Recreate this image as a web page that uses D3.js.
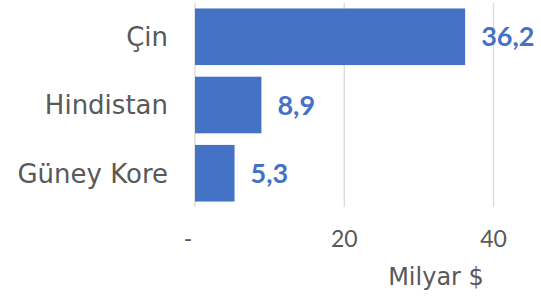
<!DOCTYPE html>
<html>
<head>
<meta charset="UTF-8">
<style>
  body { margin: 0; background: #fff; }
  svg { display: block; font-family: "Century Gothic", "Lato", sans-serif; }
  .wide { font-family: "Century Gothic", "DejaVu Sans", sans-serif; }
</style>
<script src="https://cdn.jsdelivr.net/npm/d3@7"></script>
</head>
<body>
<svg id="chart" width="541" height="300"></svg>
<script>
const categories = ["Çin", "Hindistan", "Güney Kore"];
const values = [36.2, 8.9, 5.3];
const tickValues = [0, 20, 40];
const tickLabels = ["-", "20", "40"];
const axisTitle = "Milyar $";

const svg = d3.select("#chart");
const blue = "#4472C4";
const grey = "#595959";

const x = d3.scaleLinear().domain([0, 40]).range([195, 493.5]);
const y = d3.scaleBand().domain(categories).range([3, 207]).paddingInner(0.17).paddingOuter(0.08);

// gridlines
svg.append("g").selectAll("line")
  .data(tickValues)
  .join("line")
  .attr("x1", d => x(d)).attr("x2", d => x(d))
  .attr("y1", 3).attr("y2", 207)
  .attr("stroke", "#d9d9d9").attr("stroke-width", 1.3);

// bars
svg.append("g").selectAll("rect")
  .data(values)
  .join("rect")
  .attr("x", x(0))
  .attr("y", (d, i) => y(categories[i]))
  .attr("width", d => x(d) - x(0))
  .attr("height", y.bandwidth())
  .attr("fill", blue);

// value labels
svg.append("g").selectAll("text")
  .data(values)
  .join("text")
  .attr("x", d => x(d) + 16)
  .attr("y", (d, i) => y(categories[i]) + y.bandwidth() / 2)
  .attr("dy", "0.36em")
  .attr("fill", blue)
  .attr("font-weight", "bold")
  .attr("font-size", 27)
  .text(d => d.toFixed(1).replace(".", ","));

// category axis labels
svg.append("g").selectAll("text")
  .data(categories)
  .join("text")
  .attr("class", "wide")
  .attr("x", 168)
  .attr("y", d => y(d) + y.bandwidth() / 2)
  .attr("dy", "0.36em")
  .attr("text-anchor", "end")
  .attr("fill", grey)
  .attr("font-size", 26)
  .text(d => d);

// x tick labels
svg.append("g").selectAll("text")
  .data(tickValues)
  .join("text")
  .attr("x", (d, i) => i === 0 ? x(d) - 7 : x(d))
  .attr("y", 247)
  .attr("text-anchor", "middle")
  .attr("fill", grey)
  .attr("font-size", 23)
  .text((d, i) => tickLabels[i]);

svg.append("text")
  .attr("class", "wide")
  .attr("x", 436)
  .attr("y", 285)
  .attr("text-anchor", "middle")
  .attr("fill", grey)
  .attr("font-size", 24)
  .text(axisTitle);
</script>
</body>
</html>
